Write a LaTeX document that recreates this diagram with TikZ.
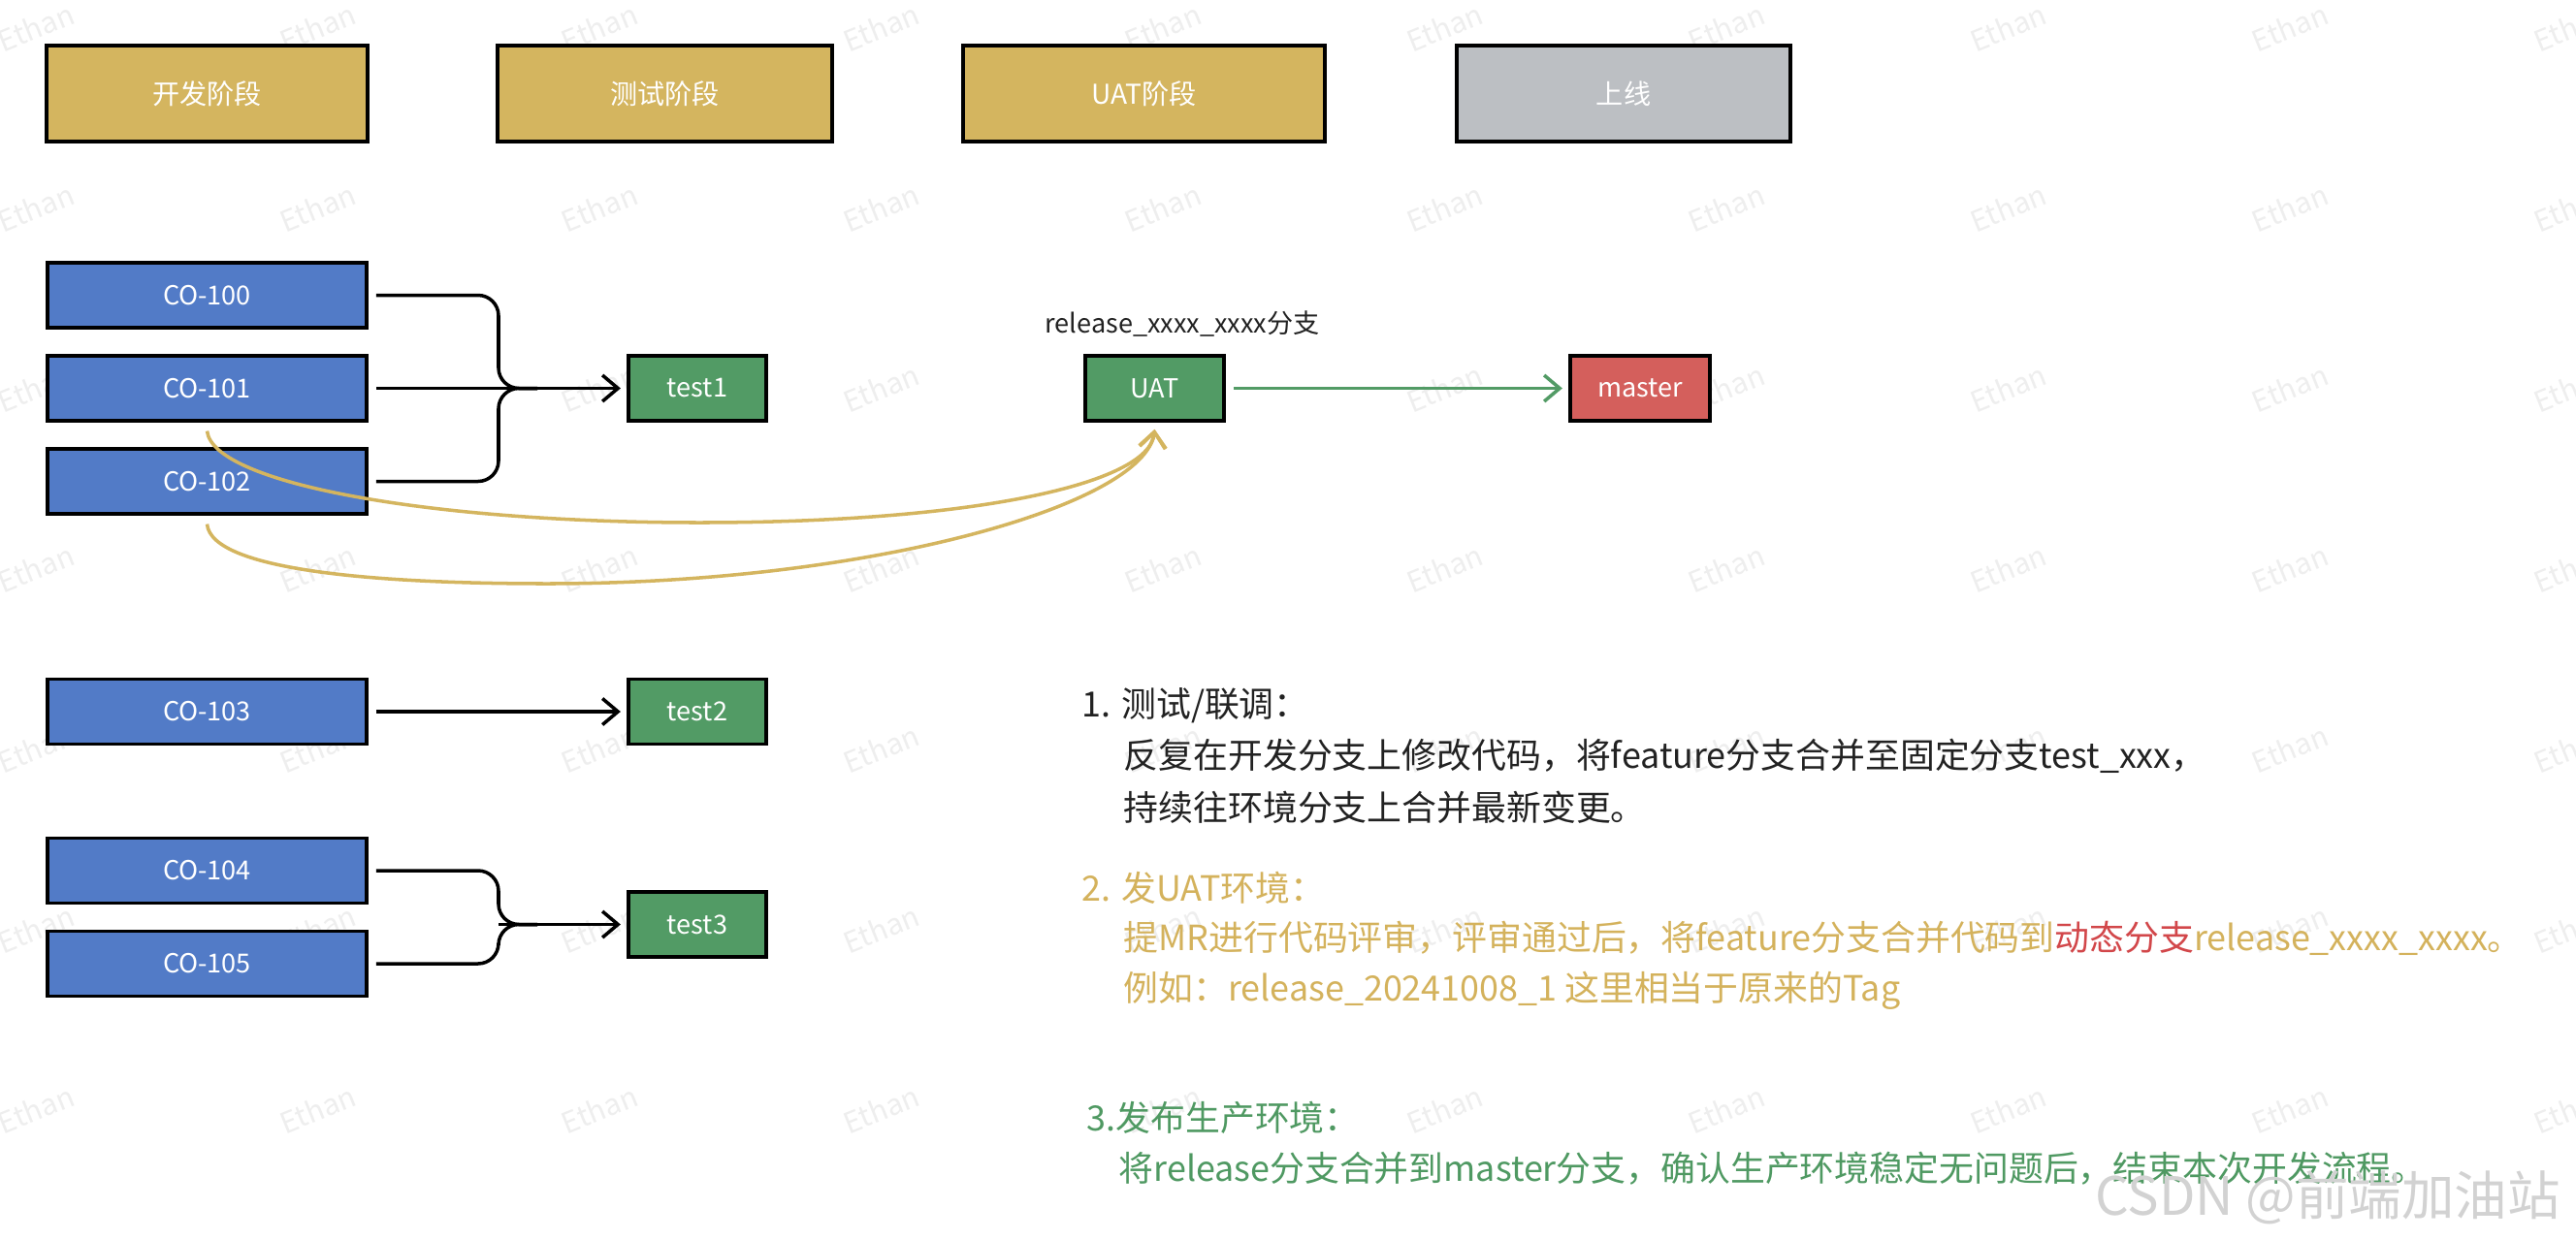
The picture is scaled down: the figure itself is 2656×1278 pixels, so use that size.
\documentclass[tikz,border=0pt]{standalone}
\usepackage{fontspec}
\setmainfont{Noto Sans CJK SC}
\usepackage{xcolor}
\usepackage{tikz}
\usetikzlibrary{arrows.meta}

\definecolor{stagegold}{HTML}{D4B55F}
\definecolor{stagegray}{HTML}{BCBFC3}
\definecolor{featblue}{HTML}{527BC7}
\definecolor{envgreen}{HTML}{529B65}
\definecolor{masterred}{HTML}{D45F5C}
\definecolor{notedark}{HTML}{222222}
\definecolor{notegold}{HTML}{D4B25C}
\definecolor{notered}{HTML}{D2474A}
\definecolor{notegreen}{HTML}{4F9962}

\begin{document}
\begin{tikzpicture}[x=0.01cm, y=-0.01cm,
  box/.style={draw=black, line width=1pt, text=white, inner sep=0pt,
    minimum height=0.67cm, font=\fontsize{7.7}{9}\selectfont},
  stage/.style={box, minimum height=0.99cm, font=\fontsize{8}{10}\selectfont},
  feature/.style={box, fill=featblue, minimum width=3.29cm},
  envbox/.style={box, fill=envgreen, minimum width=1.42cm},
  brace/.style={line width=1pt, rounded corners=6pt},
  link/.style={line width=1pt, shorten <=2.3pt, shorten >=1.8pt,
    -{Straight Barb[length=1.6mm,width=2.7mm]}},
  uatflow/.style={draw=stagegold, line width=1pt,
    -{Straight Barb[length=1.6mm,width=2.7mm]}},
  note/.style={anchor=west, inner sep=0pt, font=\fontsize{10.2}{12}\selectfont},
  wmark/.style={rotate=22, text=gray!13, font=\fontsize{8.5}{10}\selectfont}
]
\useasboundingbox (0,0) rectangle (2656,1278);
\fill[white] (0,0) rectangle (2656,1278);

% watermark
\foreach \i in {0,...,9}
  \foreach \j in {0,...,6}
    \node[wmark] at (37+290.5*\i, 28+186*\j) {Ethan};

% stages
\node[stage, fill=stagegold, minimum width=3.31cm] (dev) at (213.5,96.5) {开发阶段};
\node[stage, fill=stagegold, minimum width=3.45cm] (testing) at (685.5,96.5) {测试阶段};
\node[stage, fill=stagegold, minimum width=3.73cm] (uatstage) at (1179.5,96.5) {UAT阶段};
\node[stage, fill=stagegray, minimum width=3.44cm] (online) at (1674,96.5) {上线};

% feature branches
\node[feature] (co100) at (213.5,304.5) {CO-100};
\node[feature] (co101) at (213.5,400.5) {CO-101};
\node[feature] (co102) at (213.5,496.5) {CO-102};
\node[feature] (co103) at (213.5,734) {CO-103};
\node[feature] (co104) at (213.5,898) {CO-104};
\node[feature] (co105) at (213.5,994) {CO-105};

% test branches
\node[envbox] (test1) at (719,400.5) {test1};
\node[envbox] (test2) at (719,734) {test2};
\node[envbox] (test3) at (719,953.5) {test3};

% release
\node[font=\fontsize{7.7}{9}\selectfont, text=notedark] (rel) at (1219,334) {release\_xxxx\_xxxx分支};
\node[envbox, minimum width=1.43cm] (uat) at (1190.5,400.5) {UAT};
\node[box, fill=masterred, minimum width=1.44cm] (master) at (1691,400.5) {master};

\coordinate (j1) at (514,400.5);
\coordinate (j3) at (514,953.5);

\draw[brace] ([xshift=2.3pt]co100.east) -| (j1) -- ++(40,0);
\draw[brace] ([xshift=2.3pt]co102.east) -| (j1) -- ++(40,0);
\draw[link] (co101) -- (test1);
\draw[link] (co103) -- (test2);
\draw[brace] ([xshift=2.3pt]co104.east) -| (j3) -- ++(40,0);
\draw[brace] ([xshift=2.3pt]co105.east) -| (j3) -- ++(40,0);
\draw[link, shorten <=0pt] (j3) -- (test3);
\draw[link, draw=envgreen] (uat) -- (master);

\draw[uatflow] ([yshift=-2.5pt]co101.south) .. controls (220,500) and (450,539) .. (721,539)
  .. controls (1000,539) and (1185,500) .. ([yshift=-2pt]uat.south);
\draw[uatflow] ([yshift=-2.5pt]co102.south) .. controls (218,590) and (400,602) .. (564,602)
  .. controls (900,602) and (1180,520) .. ([yshift=-2pt]uat.south);

% notes
\node[note, text=notedark] (n1) at (1115,728) {1. 测试/联调：};
\node[note, text=notedark] (n1a) at (1158,780) {反复在开发分支上修改代码，将feature分支合并至固定分支test\_xxx，};
\node[note, text=notedark] (n1b) at (1158,833) {持续往环境分支上合并最新变更。};
\node[note, text=notegold] (n2) at (1115,916) {2. 发UAT环境：};
\node[note, text=notegold] (n2a) at (1158,968) {提MR进行代码评审，评审通过后，将feature分支合并代码到\textcolor{notered}{动态分支}release\_xxxx\_xxxx。};
\node[note, text=notegold] (n2b) at (1158,1022) {例如：release\_20241008\_1 这里相当于原来的Tag};
\node[note, text=notegreen] (n3) at (1120,1153) {3.发布生产环境：};
\node[note, text=notegreen] (n3a) at (1153,1205) {将release分支合并到master分支，确认生产环境稳定无问题后，结束本次开发流程。};

\node[anchor=east, text=gray!35, font=\fontsize{15.5}{18}\selectfont] (csdn) at (2652,1235) {CSDN @前端加油站};
\end{tikzpicture}
\end{document}
